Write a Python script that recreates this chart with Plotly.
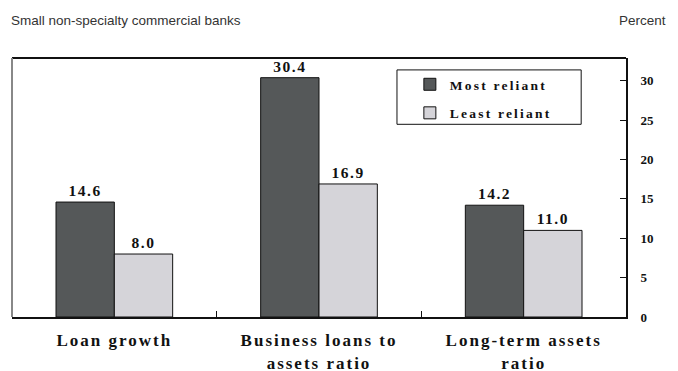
import plotly.graph_objects as go

categories = ["Loan growth", "Business loans to<br>assets ratio", "Long-term assets<br>ratio"]
most_reliant = [14.6, 30.4, 14.2]
least_reliant = [8.0, 16.9, 11.0]
series_names = ["Most reliant", "Least reliant"]
y_ticks = [0, 5, 10, 15, 20, 25, 30]

SERIF = "Liberation Serif, Times New Roman, serif"
DARK = "#555859"
LIGHT = "#d5d4d9"


def spaced(s, px):
    """Wrap text in a span with extra letter spacing."""
    return f'<span style="letter-spacing:{px}px">{s}</span>'


fig = go.Figure()
for name, vals, col, grp in [(series_names[0], most_reliant, DARK, "a"),
                             (series_names[1], least_reliant, LIGHT, "b")]:
    fig.add_trace(go.Bar(
        x=categories, y=vals, name=spaced(name, 2.2), legendgroup=grp,
        marker=dict(color=col, line=dict(color="#111111", width=1)),
        text=[spaced(f"{v:.1f}", 1.5) for v in vals], textposition="outside",
        textfont=dict(family=SERIF, size=15.5, color="#111111", weight="bold"),
        cliponaxis=False,
    ))

fig.update_layout(
    width=678, height=371,
    margin=dict(l=12, r=52, t=58, b=54),
    paper_bgcolor="white", plot_bgcolor="white",
    barmode="group", bargap=0.43, bargroupgap=0,
    showlegend=True,
    legend=dict(x=0.648, y=0.9575, xanchor="left", yanchor="top",
                bgcolor="rgba(0,0,0,0)", borderwidth=0,
                tracegroupgap=8, traceorder="grouped",
                font=dict(family=SERIF, size=13.5, color="#111111", weight="bold")),
    xaxis=dict(type="category", showline=True, linecolor="#111111", linewidth=2,
               ticks="inside", ticklen=6, tickcolor="#111111",
               tickson="boundaries", showgrid=False, automargin=False,
               tickvals=categories, ticktext=[spaced(c, 2) for c in categories],
               ticklabelstandoff=7,
               tickfont=dict(family=SERIF, size=17, color="#111111", weight="bold")),
    yaxis=dict(side="right", range=[0, 32.9], tickvals=y_ticks,
               showline=True, linecolor="#111111", linewidth=2,
               ticks="inside", ticklen=6, tickcolor="#111111", showgrid=False,
               zeroline=False, ticklabelstandoff=10, automargin=False,
               tickfont=dict(family=SERIF, size=13, color="#111111", weight="bold")),
    annotations=[
        dict(text="Small non-specialty commercial banks", xref="paper", yref="paper",
             x=-0.005, y=1.0, yshift=38, xanchor="left", yanchor="middle", showarrow=False,
             font=dict(family="Liberation Sans, Arial, sans-serif", size=13.5, color="#333333")),
        dict(text="Percent", xref="paper", yref="paper",
             x=1.0, xshift=42, y=1.0, yshift=38, xanchor="right", yanchor="middle", showarrow=False,
             font=dict(family="Liberation Sans, Arial, sans-serif", size=13.5, color="#333333")),
    ],
    shapes=[
        # top frame line
        dict(type="line", xref="paper", yref="paper", x0=0, x1=1, y0=1, y1=1,
             line=dict(color="#111111", width=2)),
        # left frame line
        dict(type="line", xref="paper", yref="paper", x0=0, x1=0, y0=0, y1=1,
             line=dict(color="#888888", width=2)),
        # legend frame
        dict(type="rect", xref="paper", yref="paper", x0=0.627, x1=0.927, y0=0.744, y1=0.954,
             line=dict(color="#111111", width=1), fillcolor="rgba(0,0,0,0)"),
    ],
)

fig.write_html("out.html")
